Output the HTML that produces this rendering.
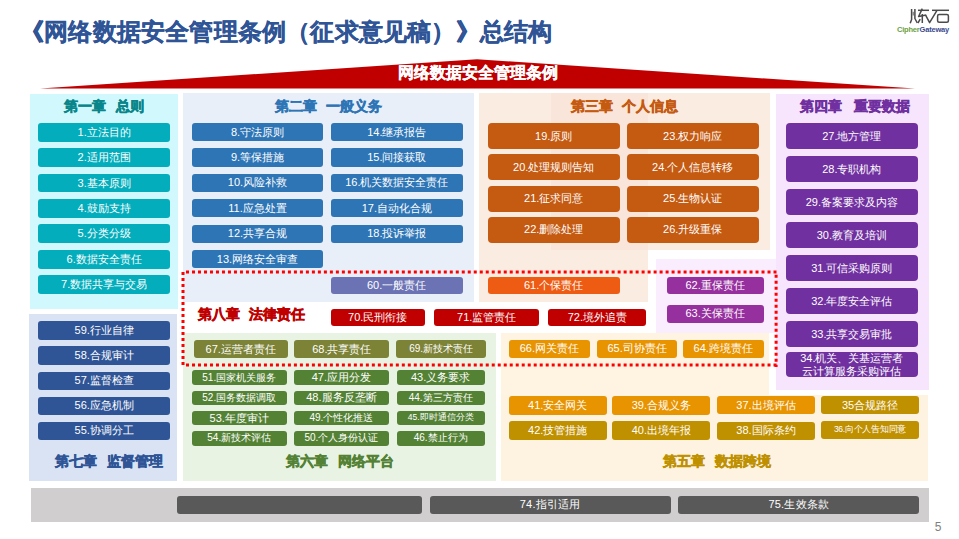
<!DOCTYPE html>
<html><head><meta charset="utf-8"><style>
html,body{margin:0;padding:0;}
body{width:959px;height:539px;position:relative;overflow:hidden;background:#fff;font-family:'Liberation Sans', sans-serif;}
.b{position:absolute;display:flex;align-items:center;justify-content:center;color:#fff;white-space:nowrap;text-align:center;box-sizing:border-box;}
.t{position:absolute;display:flex;align-items:center;justify-content:center;font-weight:bold;white-space:nowrap;-webkit-text-stroke:0.5px currentColor;}
</style></head><body>
<div style="position:absolute;left:20px;top:16.5px;font-size:24.3px;letter-spacing:0.2px;font-weight:bold;color:#2f5597;white-space:nowrap;line-height:30px;-webkit-text-stroke:0.3px #2f5597">《网络数据安全管理条例（征求意见稿）》总结构</div>
<svg style="position:absolute;left:0;top:0" width="959" height="40"><g fill="none" stroke="#4a4a4a" stroke-width="1.5" stroke-linecap="butt" stroke-linejoin="round">
<path d="M911.6,9 L911.6,19.5 L910.2,23.2"/>
<path d="M914.9,9 L914.9,18.5 L917.3,23"/>
<path d="M913.2,11.8 L913.2,15.5" stroke-width="0.9"/>
<path d="M918,10.3 L929,10.3"/>
<path d="M922.3,8.6 L918.6,16.5 L926.2,15"/>
<path d="M922.3,14 L922.3,23"/>
<path d="M920.2,19.2 L917.9,23"/>
<path d="M925.6,15.2 L929.6,22.7 L937,10.3"/>
<path d="M932,10.3 L949,10.3"/>
<rect x="937.6" y="14.6" width="10.8" height="7.6" rx="1.5"/>
</g></svg>
<div style="position:absolute;left:897px;top:25px;font-size:7.5px;font-weight:bold;line-height:9px;white-space:nowrap;letter-spacing:-0.2px"><span style="color:#6aa043">Cipher</span><span style="color:#3c4b8e">Gateway</span></div>
<svg style="position:absolute;left:0;top:0" width="959" height="100"><polygon points="40,88.6 477,59.3 915,88.6" fill="#c00000"/></svg>
<div style="position:absolute;left:328px;top:62px;width:300px;text-align:center;font-size:16px;font-weight:bold;color:#fff;line-height:22px;white-space:nowrap;-webkit-text-stroke:0.3px #fff">网络数据安全管理条例</div>
<div style="position:absolute;left:30px;top:94px;width:148.00px;height:215.00px;background:#d1f8fc;"></div><div style="position:absolute;left:183px;top:93px;width:291.00px;height:209.00px;background:#e9eff8;"></div><div style="position:absolute;left:479px;top:93px;width:291.00px;height:157.00px;background:#fbece2;"></div><div style="position:absolute;left:551px;top:93px;width:97.00px;height:156.50px;background:#f9e5d9;"></div><div style="position:absolute;left:479px;top:250px;width:169.00px;height:52.00px;background:#fbece2;"></div><div style="position:absolute;left:776px;top:93.5px;width:153.00px;height:296.50px;background:#f6e5fc;"></div><div style="position:absolute;left:656px;top:259px;width:120.00px;height:74.00px;background:#f9edfe;"></div><div style="position:absolute;left:501px;top:333px;width:268.00px;height:63.00px;background:#fff4e2;"></div><div style="position:absolute;left:501px;top:395px;width:427.00px;height:86.00px;background:#fef3e0;"></div><div style="position:absolute;left:183px;top:333px;width:313.00px;height:148.00px;background:#e9f3e4;"></div><div style="position:absolute;left:29px;top:314px;width:148.00px;height:167.00px;background:#dae3f3;"></div><div style="position:absolute;left:31px;top:488px;width:898.00px;height:33.50px;background:#d0cece;"></div><div class="t" style="left:-46px;top:96.8px;width:300px;height:20px;color:#09868a;font-size:14px">第一章<span style="display:inline-block;width:9.5px"></span>总则</div><div class="b" style="left:38px;top:123.0px;width:132.30px;height:18.70px;background:#03adbb;border-radius:3px;font-size:11px;"><span style="">1.立法目的</span></div><div class="b" style="left:38px;top:148.37px;width:132.30px;height:18.70px;background:#03adbb;border-radius:3px;font-size:11px;"><span style="">2.适用范围</span></div><div class="b" style="left:38px;top:173.74px;width:132.30px;height:18.70px;background:#03adbb;border-radius:3px;font-size:11px;"><span style="">3.基本原则</span></div><div class="b" style="left:38px;top:199.11px;width:132.30px;height:18.70px;background:#03adbb;border-radius:3px;font-size:11px;"><span style="">4.鼓励支持</span></div><div class="b" style="left:38px;top:224.48px;width:132.30px;height:18.70px;background:#03adbb;border-radius:3px;font-size:11px;"><span style="">5.分类分级</span></div><div class="b" style="left:38px;top:249.85px;width:132.30px;height:18.70px;background:#03adbb;border-radius:3px;font-size:11px;"><span style="">6.数据安全责任</span></div><div class="b" style="left:38px;top:275.22px;width:132.30px;height:18.70px;background:#03adbb;border-radius:3px;font-size:11px;"><span style="">7.数据共享与交易</span></div><div class="t" style="left:178.5px;top:96.8px;width:300px;height:20px;color:#2e75b6;font-size:14px">第二章<span style="display:inline-block;width:9.5px"></span>一般义务</div><div class="b" style="left:191.7px;top:123.0px;width:131.60px;height:18.30px;background:#2e75b6;border-radius:3px;font-size:11px;"><span style="">8.守法原则</span></div><div class="b" style="left:191.7px;top:148.4px;width:131.60px;height:18.30px;background:#2e75b6;border-radius:3px;font-size:11px;"><span style="">9.等保措施</span></div><div class="b" style="left:191.7px;top:173.8px;width:131.60px;height:18.30px;background:#2e75b6;border-radius:3px;font-size:11px;"><span style="">10.风险补救</span></div><div class="b" style="left:191.7px;top:199.2px;width:131.60px;height:18.30px;background:#2e75b6;border-radius:3px;font-size:11px;"><span style="">11.应急处置</span></div><div class="b" style="left:191.7px;top:224.6px;width:131.60px;height:18.30px;background:#2e75b6;border-radius:3px;font-size:11px;"><span style="">12.共享合规</span></div><div class="b" style="left:191.7px;top:250.0px;width:131.60px;height:18.30px;background:#2e75b6;border-radius:3px;font-size:11px;"><span style="">13.网络安全审查</span></div><div class="b" style="left:331px;top:123.0px;width:131.70px;height:18.30px;background:#2e75b6;border-radius:3px;font-size:11px;"><span style="">14.继承报告</span></div><div class="b" style="left:331px;top:148.4px;width:131.70px;height:18.30px;background:#2e75b6;border-radius:3px;font-size:11px;"><span style="">15.间接获取</span></div><div class="b" style="left:331px;top:173.8px;width:131.70px;height:18.30px;background:#2e75b6;border-radius:3px;font-size:11px;"><span style="">16.机关数据安全责任</span></div><div class="b" style="left:331px;top:199.2px;width:131.70px;height:18.30px;background:#2e75b6;border-radius:3px;font-size:11px;"><span style="">17.自动化合规</span></div><div class="b" style="left:331px;top:224.6px;width:131.70px;height:18.30px;background:#2e75b6;border-radius:3px;font-size:11px;"><span style="">18.投诉举报</span></div><div class="t" style="left:474.5px;top:96.8px;width:300px;height:20px;color:#c55a11;font-size:14px">第三章<span style="display:inline-block;width:9.5px"></span>个人信息</div><div class="b" style="left:487.7px;top:123.0px;width:132.10px;height:26.00px;background:#c55a11;border-radius:4px;font-size:11px;"><span style="">19.原则</span></div><div class="b" style="left:487.7px;top:154.27px;width:132.10px;height:26.00px;background:#c55a11;border-radius:4px;font-size:11px;"><span style="">20.处理规则告知</span></div><div class="b" style="left:487.7px;top:185.54px;width:132.10px;height:26.00px;background:#c55a11;border-radius:4px;font-size:11px;"><span style="">21.征求同意</span></div><div class="b" style="left:487.7px;top:216.81px;width:132.10px;height:26.00px;background:#c55a11;border-radius:4px;font-size:11px;"><span style="">22.删除处理</span></div><div class="b" style="left:626.7px;top:123.0px;width:132.00px;height:26.00px;background:#c55a11;border-radius:4px;font-size:11px;"><span style="">23.权力响应</span></div><div class="b" style="left:626.7px;top:154.27px;width:132.00px;height:26.00px;background:#c55a11;border-radius:4px;font-size:11px;"><span style="">24.个人信息转移</span></div><div class="b" style="left:626.7px;top:185.54px;width:132.00px;height:26.00px;background:#c55a11;border-radius:4px;font-size:11px;"><span style="">25.生物认证</span></div><div class="b" style="left:626.7px;top:216.81px;width:132.00px;height:26.00px;background:#c55a11;border-radius:4px;font-size:11px;"><span style="">26.升级重保</span></div><div class="t" style="left:705.3px;top:96.8px;width:300px;height:20px;color:#7030a0;font-size:14px">第四章<span style="display:inline-block;width:12px"></span>重要数据</div><div class="b" style="left:785.8px;top:123px;width:132.00px;height:26.00px;background:#7030a0;border-radius:4px;font-size:11px;"><span style="">27.地方管理</span></div><div class="b" style="left:785.8px;top:156px;width:132.00px;height:26.00px;background:#7030a0;border-radius:4px;font-size:11px;"><span style="">28.专职机构</span></div><div class="b" style="left:785.8px;top:189px;width:132.00px;height:26.00px;background:#7030a0;border-radius:4px;font-size:11px;"><span style="">29.备案要求及内容</span></div><div class="b" style="left:785.8px;top:222px;width:132.00px;height:26.00px;background:#7030a0;border-radius:4px;font-size:11px;"><span style="">30.教育及培训</span></div><div class="b" style="left:785.8px;top:255px;width:132.00px;height:26.00px;background:#7030a0;border-radius:4px;font-size:11px;"><span style="">31.可信采购原则</span></div><div class="b" style="left:785.8px;top:288px;width:132.00px;height:26.00px;background:#7030a0;border-radius:4px;font-size:11px;"><span style="">32.年度安全评估</span></div><div class="b" style="left:785.8px;top:321px;width:132.00px;height:26.00px;background:#7030a0;border-radius:4px;font-size:11px;"><span style="">33.共享交易审批</span></div><div class="b" style="left:785.8px;top:351.6px;width:132.00px;height:25.70px;background:#7030a0;border-radius:4px;font-size:11px;line-height:13px;padding-bottom:0;padding-top:1px;"><span style="">34.机关、关基运营者<br>云计算服务采购评估</span></div><div class="t" style="left:101.5px;top:304.8px;width:300px;height:20px;color:#c00000;font-size:14px">第八章<span style="display:inline-block;width:9.5px"></span>法律责任</div><div class="b" style="left:330.5px;top:277px;width:132.10px;height:16.80px;background:#6b73b4;border-radius:3px;font-size:11px;"><span style="">60.一般责任</span></div><div class="b" style="left:487.6px;top:277px;width:132.00px;height:16.80px;background:#ee5b12;border-radius:3px;font-size:11px;"><span style="">61.个保责任</span></div><div class="b" style="left:666.7px;top:276.9px;width:96.90px;height:17.00px;background:#96309e;border-radius:3px;font-size:11px;"><span style="">62.重保责任</span></div><div class="b" style="left:666.7px;top:304.6px;width:96.90px;height:18.40px;background:#96309e;border-radius:3px;font-size:11px;"><span style="">63.关保责任</span></div><div class="b" style="left:330.5px;top:309px;width:94.50px;height:16.70px;background:#c00000;border-radius:3px;font-size:11px;"><span style="">70.民刑衔接</span></div><div class="b" style="left:434.2px;top:309px;width:105.10px;height:16.70px;background:#c00000;border-radius:3px;font-size:11px;"><span style="">71.监管责任</span></div><div class="b" style="left:548.3px;top:309px;width:98.00px;height:16.70px;background:#c00000;border-radius:3px;font-size:11px;"><span style="">72.境外追责</span></div><div class="t" style="left:190px;top:451.8px;width:300px;height:20px;color:#548235;font-size:14px">第六章<span style="display:inline-block;width:9.5px"></span>网络平台</div><div class="b" style="left:194px;top:340px;width:93.50px;height:18.30px;background:#7c8236;border-radius:3px;font-size:11px;"><span style="">67.运营者责任</span></div><div class="b" style="left:294.2px;top:340px;width:95.30px;height:18.30px;background:#7c8236;border-radius:3px;font-size:11px;"><span style="">68.共享责任</span></div><div class="b" style="left:396.3px;top:340px;width:89.70px;height:18.30px;background:#7c8236;border-radius:3px;font-size:10px;"><span style="">69.新技术责任</span></div><div class="b" style="left:191.5px;top:370.3px;width:95.50px;height:14.50px;background:#548235;border-radius:3px;font-size:10px;"><span style="">51.国家机关服务</span></div><div class="b" style="left:293.5px;top:370.3px;width:95.80px;height:14.50px;background:#548235;border-radius:3px;font-size:11px;"><span style="">47.应用分发</span></div><div class="b" style="left:396.5px;top:370.3px;width:88.30px;height:14.50px;background:#548235;border-radius:3px;font-size:11px;"><span style="">43.义务要求</span></div><div class="b" style="left:191.5px;top:390.6px;width:95.50px;height:14.50px;background:#548235;border-radius:3px;font-size:10px;"><span style="">52.国务数据调取</span></div><div class="b" style="left:293.5px;top:390.6px;width:95.80px;height:14.50px;background:#548235;border-radius:3px;font-size:11px;"><span style="">48.服务反垄断</span></div><div class="b" style="left:396.5px;top:390.6px;width:88.30px;height:14.50px;background:#548235;border-radius:3px;font-size:10px;"><span style="">44.第三方责任</span></div><div class="b" style="left:191.5px;top:410.9px;width:95.50px;height:14.50px;background:#548235;border-radius:3px;font-size:11px;"><span style="">53.年度审计</span></div><div class="b" style="left:293.5px;top:410.9px;width:95.80px;height:14.50px;background:#548235;border-radius:3px;font-size:10px;"><span style="">49.个性化推送</span></div><div class="b" style="left:396.5px;top:410.9px;width:88.30px;height:14.50px;background:#548235;border-radius:3px;font-size:8.5px;"><span style="">45.即时通信分类</span></div><div class="b" style="left:191.5px;top:431.2px;width:95.50px;height:14.50px;background:#548235;border-radius:3px;font-size:10px;"><span style="">54.新技术评估</span></div><div class="b" style="left:293.5px;top:431.2px;width:95.80px;height:14.50px;background:#548235;border-radius:3px;font-size:10px;"><span style="">50.个人身份认证</span></div><div class="b" style="left:396.5px;top:431.2px;width:88.30px;height:14.50px;background:#548235;border-radius:3px;font-size:10px;"><span style="">46.禁止行为</span></div><div class="t" style="left:567px;top:451.8px;width:300px;height:20px;color:#bf9000;font-size:14px">第五章<span style="display:inline-block;width:9.5px"></span>数据跨境</div><div class="b" style="left:509px;top:339.6px;width:80.70px;height:18.20px;background:#e89300;border-radius:3px;font-size:11px;"><span style="">66.网关责任</span></div><div class="b" style="left:597px;top:339.6px;width:80.30px;height:18.20px;background:#e89300;border-radius:3px;font-size:11px;"><span style="">65.司协责任</span></div><div class="b" style="left:683px;top:339.6px;width:80.50px;height:18.20px;background:#e89300;border-radius:3px;font-size:11px;"><span style="">64.跨境责任</span></div><div class="b" style="left:509px;top:396.3px;width:97.50px;height:18.70px;background:#e89300;border-radius:3px;font-size:11px;"><span style="">41.安全网关</span></div><div class="b" style="left:612.3px;top:396.3px;width:98.10px;height:18.70px;background:#e89300;border-radius:3px;font-size:11px;"><span style="">39.合规义务</span></div><div class="b" style="left:717px;top:396.3px;width:98.00px;height:18.20px;background:#e89300;border-radius:3px;font-size:11px;"><span style="">37.出境评估</span></div><div class="b" style="left:820.8px;top:395.8px;width:98.50px;height:18.50px;background:#bf9000;border-radius:3px;font-size:11px;"><span style="">35合规路径</span></div><div class="b" style="left:509px;top:421px;width:97.50px;height:18.70px;background:#bf9000;border-radius:3px;font-size:11px;"><span style="">42.技管措施</span></div><div class="b" style="left:612.3px;top:421px;width:98.10px;height:18.70px;background:#bf9000;border-radius:3px;font-size:11px;"><span style="">40.出境年报</span></div><div class="b" style="left:717px;top:421.5px;width:98.00px;height:18.00px;background:#bf9000;border-radius:3px;font-size:11px;"><span style="">38.国际条约</span></div><div class="b" style="left:821.3px;top:421.2px;width:97.50px;height:18.10px;background:#bf9000;border-radius:3px;font-size:8.5px;"><span style="letter-spacing:-0.25px">36.向个人告知同意</span></div><div class="t" style="left:-41px;top:451.8px;width:300px;height:20px;color:#2f5597;font-size:14px">第七章<span style="display:inline-block;width:9.5px"></span>监督管理</div><div class="b" style="left:38.1px;top:321.3px;width:132.20px;height:18.40px;background:#2f5597;border-radius:3px;font-size:11px;"><span style="">59.行业自律</span></div><div class="b" style="left:38.1px;top:346.4px;width:132.20px;height:18.40px;background:#2f5597;border-radius:3px;font-size:11px;"><span style="">58.合规审计</span></div><div class="b" style="left:38.1px;top:371.5px;width:132.20px;height:18.40px;background:#2f5597;border-radius:3px;font-size:11px;"><span style="">57.监督检查</span></div><div class="b" style="left:38.1px;top:396.6px;width:132.20px;height:18.40px;background:#2f5597;border-radius:3px;font-size:11px;"><span style="">56.应急机制</span></div><div class="b" style="left:38.1px;top:421.7px;width:132.20px;height:18.40px;background:#2f5597;border-radius:3px;font-size:11px;"><span style="">55.协调分工</span></div><div class="b" style="left:177.3px;top:496.2px;width:244.60px;height:17.60px;background:#595959;border-radius:3px;font-size:11px;"><span style=""></span></div><div class="b" style="left:429.7px;top:496.2px;width:240.90px;height:17.60px;background:#595959;border-radius:3px;font-size:11px;padding-bottom:1px;"><span style="letter-spacing:0.2px">74.指引适用</span></div><div class="b" style="left:678.4px;top:496.2px;width:240.90px;height:17.60px;background:#595959;border-radius:3px;font-size:11px;padding-bottom:1px;"><span style="letter-spacing:0.2px">75.生效条款</span></div>
<svg style="position:absolute;left:0;top:0" width="959" height="539"><g fill="none" stroke="#ff0000" stroke-width="3" stroke-dasharray="3 2.995">
<path d="M186,271.9 H777"/><path d="M183,272 V366"/><path d="M776.1,274.7 V367"/><path d="M186,364.9 H779"/></g></svg>
<div style="position:absolute;left:930px;top:519px;width:16px;text-align:center;font-size:12px;color:#7f7f7f;line-height:16px">5</div>
</body></html>
